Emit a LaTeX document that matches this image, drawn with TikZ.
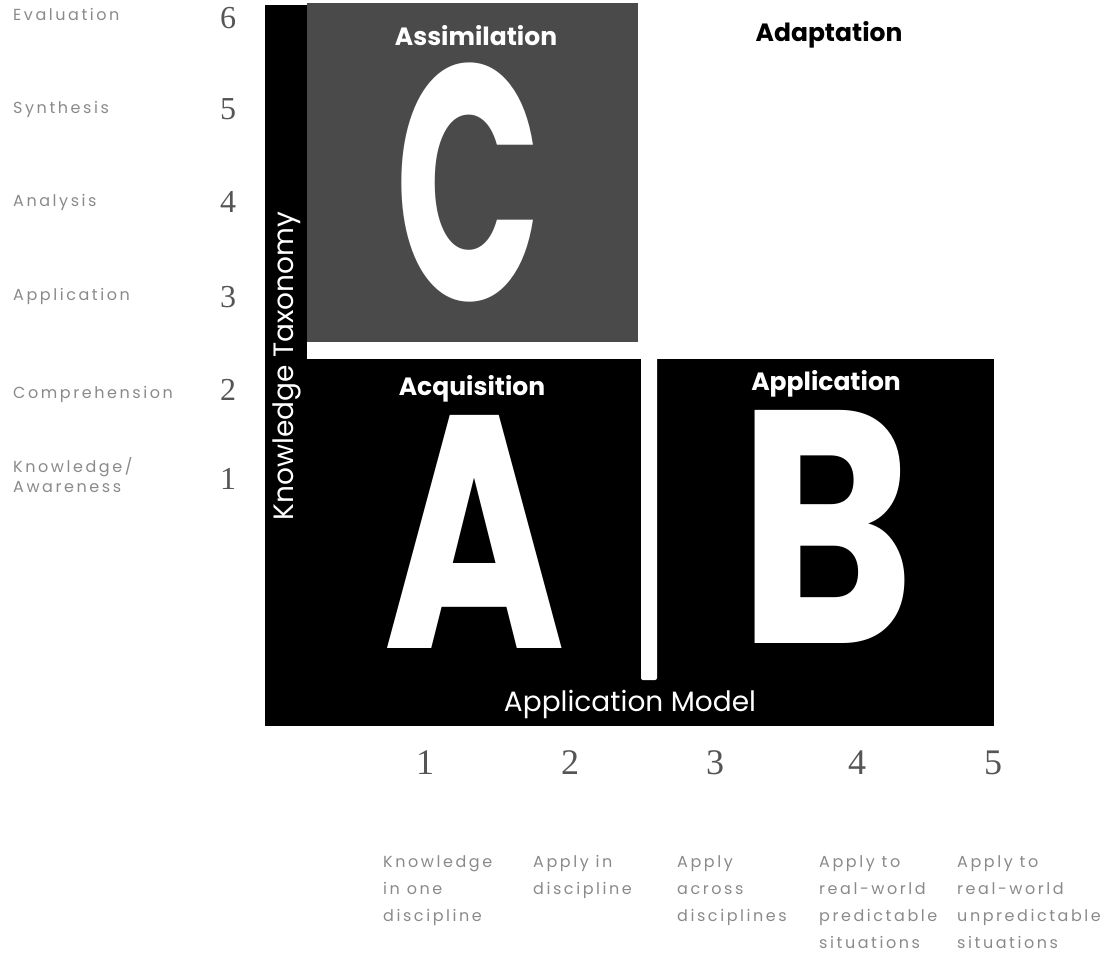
\documentclass[tikz,border=0pt]{standalone}
\usepackage{fontspec}
\setmainfont{Poppins}
\newfontfamily\tinyfont[LetterSpace=16]{Poppins}
\newfontfamily\digitfont{Liberation Serif}
\usetikzlibrary{positioning}

\definecolor{assimgray}{HTML}{4A4A4A}
\definecolor{labelgray}{HTML}{8A8A8A}
\definecolor{digitgray}{HTML}{555555}

\tikzset{
  quadhead/.style={font=\fontsize{25}{25}\selectfont\bfseries, inner sep=0pt},
  axistitle/.style={font=\fontsize{28}{28}\selectfont, text=white, inner sep=0pt},
  biglet/.style={text=white, inner sep=0pt, font=\bfseries},
  levellbl/.style={font=\tinyfont\fontsize{16}{20}\selectfont, text=labelgray, anchor=base west, inner sep=0pt, align=left},
  leveldigit/.style={font=\digitfont\fontsize{32}{32}\selectfont, text=digitgray, inner sep=0pt},
  coldigit/.style={font=\digitfont\fontsize{36}{36}\selectfont, text=digitgray, inner sep=0pt},
  coldesc/.style={font=\tinyfont\fontsize{16}{27}\selectfont, text=labelgray, anchor=north west, inner sep=0pt, align=left}
}

\begin{document}
\begin{tikzpicture}[x=1pt, y=-1pt]
  \useasboundingbox (0,0) rectangle (1107,953);

  % quadrant C (shaded) and the black frame for A and B
  \fill[assimgray] (307,3) rectangle (638,342);
  \fill[black] (265,5) rectangle (307,726);
  \fill[black] (265,359) rectangle (994,726);
  % white divider between A and B
  \fill[white, rounded corners=2pt] (641,355) rectangle (657,680);

  % quadrant headings
  \node[quadhead, text=white] (assim) at (476,36) {Assimilation};
  \node[quadhead, text=black] (adapt) at (829,35) {Adaptation};
  \node[quadhead, text=white] (acq) at (472,389) {Acquisition};
  \node[quadhead, text=white] (appl) at (826,384) {Application};

  % big quadrant letters
  \node[biglet] (letC) at (469,182.5) {\resizebox*{146pt}{239pt}{C}};
  \node[biglet] (letA) at (475,531.5) {\resizebox{182pt}{233pt}{A}};
  \node[biglet] (letB) at (827,526.5) {\resizebox{176pt}{233pt}{B}};

  % axis titles
  \node[axistitle, rotate=90] (ktax) at (287,366) {Knowledge Taxonomy};
  \node[axistitle] (amodel) at (630,704) {Application Model};

  % knowledge taxonomy levels
  \node[levellbl] (l6) at (13,20) {Evaluation};
  \node[levellbl] (l5) at (13,113) {Synthesis};
  \node[levellbl] (l4) at (13,206) {Analysis};
  \node[levellbl] (l3) at (13,300) {Application};
  \node[levellbl] (l2) at (13,398) {Comprehension};
  \node[levellbl] (l1) at (13,492) {Knowledge/\\Awareness};

  \node[leveldigit] (d6) at (228,18) {6};
  \node[leveldigit] (d5) at (228,109) {5};
  \node[leveldigit] (d4) at (228,202) {4};
  \node[leveldigit] (d3) at (228,297) {3};
  \node[leveldigit] (d2) at (228,390) {2};
  \node[leveldigit] (d1) at (228,479) {1};

  % application model levels
  \node[coldigit] (c1) at (425,763) {1};
  \node[coldigit] (c2) at (570,763) {2};
  \node[coldigit] (c3) at (715,763) {3};
  \node[coldigit] (c4) at (857,763) {4};
  \node[coldigit] (c5) at (993,763) {5};

  \node[coldesc] (t1) at (383,855) {Knowledge\\in one\\discipline};
  \node[coldesc] (t2) at (533,855) {Apply in\\discipline};
  \node[coldesc] (t3) at (677,855) {Apply\\across\\disciplines};
  \node[coldesc] (t4) at (819,855) {Apply to\\real-world\\predictable\\situations};
  \node[coldesc] (t5) at (957,855) {Apply to\\real-world\\unpredictable\\situations};
\end{tikzpicture}
\end{document}
